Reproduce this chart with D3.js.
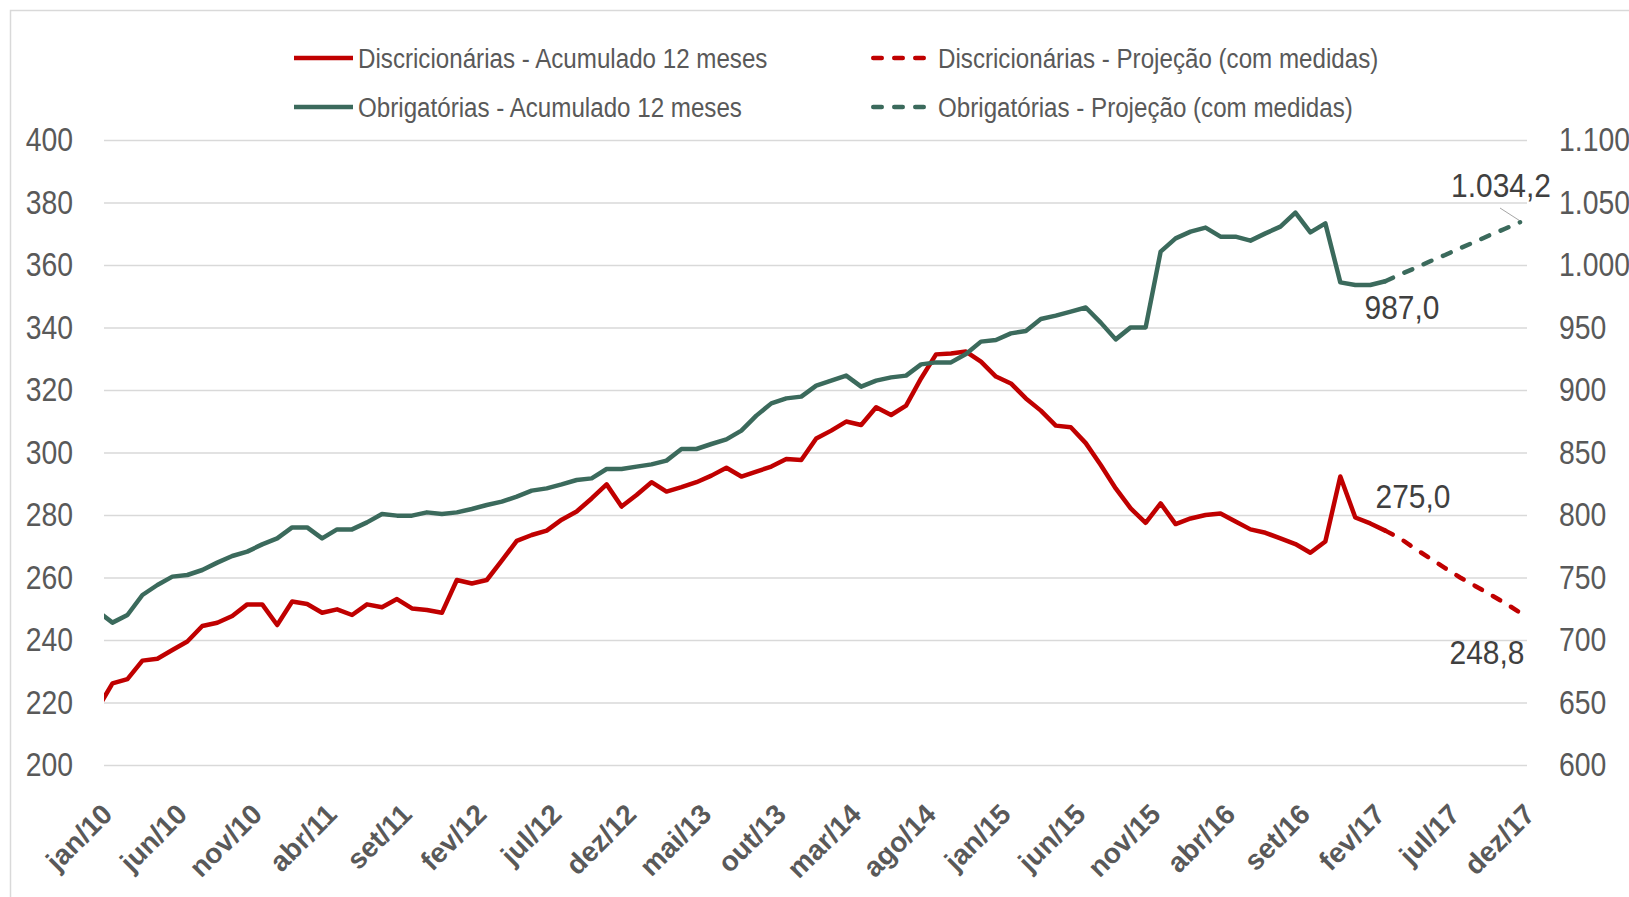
<!DOCTYPE html>
<html>
<head>
<meta charset="utf-8">
<script src="https://cdn.jsdelivr.net/npm/d3@7"></script>
<style>
  body { margin: 0; background: #fff; }
  svg { display: block; }
  text { font-family: "Liberation Sans", Arial, sans-serif; }
</style>
</head>
<body>
<div id="root"></div>
<script>
const meses = ['jan', 'fev', 'mar', 'abr', 'mai', 'jun', 'jul', 'ago', 'set', 'out', 'nov', 'dez'];
const anos = ['10', '11', '12', '13', '14', '15', '16', '17'];
const categorias = anos.flatMap(a => meses.map(m => m + '/' + a));

// R$ bilhões, acumulado 12 meses (jan/10 - mar/17)
const discricionarias = [
  218.0, 226.1, 227.5, 233.4, 234.0, 236.8, 239.5, 244.5, 245.5, 247.7, 251.4, 251.4,
  244.8, 252.3, 251.5, 248.7, 249.8, 248.0, 251.4, 250.5, 253.1, 250.1, 249.6, 248.7,
  259.2, 258.1, 259.2, 265.4, 271.7, 273.6, 275.0, 278.5, 281.1, 285.3, 289.8, 282.7,
  286.4, 290.5, 287.5, 288.9, 290.5, 292.6, 295.1, 292.3, 293.9, 295.5, 297.9, 297.6,
  304.5, 307.0, 309.9, 308.8, 314.5, 312.0, 315.0, 323.7, 331.4, 331.7, 332.3, 329.1,
  324.3, 322.1, 317.3, 313.4, 308.6, 308.1, 303.0, 296.0, 288.5, 282.1, 277.5, 283.7,
  277.1, 278.9, 280.0, 280.5, 277.9, 275.4, 274.3, 272.5, 270.7, 267.9, 271.5, 292.3,
  279.2, 277.3, 275.0
];
// projeção mar/17 - dez/17
const discProjecao = [275.0, 272.5, 269.2, 266.1, 263.0, 260.0, 257.3, 254.6, 251.8, 248.8];

const obrigatorias = [
  723.0, 713.9, 720.0, 736.0, 744.0, 750.7, 752.0, 756.0, 761.9, 767.2, 770.7, 776.5,
  781.3, 790.1, 790.1, 781.3, 788.5, 788.5, 794.1, 800.8, 799.5, 799.5, 802.1, 800.8,
  802.1, 804.8, 808.0, 810.7, 814.7, 819.5, 821.3, 824.5, 828.0, 829.3, 836.8, 836.8,
  838.7, 840.5, 843.5, 852.8, 852.8, 856.8, 860.5, 867.5, 879.5, 889.3, 893.3, 894.7,
  903.5, 907.5, 911.5, 902.7, 907.5, 910.1, 911.5, 920.5, 922.1, 922.1, 928.8, 938.7,
  940.0, 945.3, 947.2, 956.8, 959.5, 962.7, 966.0, 953.9, 940.5, 950.1, 950.1, 1010.7,
  1021.3, 1026.7, 1029.9, 1022.7, 1022.7, 1019.5, 1025.3, 1030.7, 1041.9, 1026.1, 1033.3, 986.1,
  984.0, 984.0, 987.0
];
const obrigProjecao = [987.0, 992.5, 997.5, 1003.0, 1008.0, 1013.5, 1018.5, 1024.0, 1029.0, 1034.2];

const ticksEsq = [200, 220, 240, 260, 280, 300, 320, 340, 360, 380, 400];
const ticksDir = [600, 650, 700, 750, 800, 850, 900, 950, 1000, 1050, 1100];

const VERMELHO = '#c00000';
const VERDE = '#3b6a5c';
const CINZA = '#595959';

const width = 1629, height = 897;
const plotLeft = 104, plotRight = 1527, plotTop = 140, plotBottom = 765;
// narrow look: regular Liberation Sans squeezed horizontally
const estreito = (sel, ax, sx) => sel.attr('x', 0).attr('transform', `translate(${ax},0) scale(${sx},1)`);

const br = d3.formatLocale({decimal: ',', thousands: '.', grouping: [3], currency: ['R$', '']});
const fmtEixo = br.format(',d');
const fmtRotulo = br.format(',.1f');

const svg = d3.select('#root').append('svg')
  .attr('width', width)
  .attr('height', height);

svg.append('rect').attr('width', width).attr('height', height).attr('fill', '#fff');
svg.append('rect')
  .attr('x', 10.5).attr('y', 10.5)
  .attr('width', width + 20).attr('height', height + 20)
  .attr('fill', 'none').attr('stroke', '#d9d9d9').attr('stroke-width', 1.5);

svg.append('clipPath').attr('id', 'area')
  .append('rect').attr('x', plotLeft).attr('y', 0).attr('width', width - plotLeft).attr('height', height);

const x = d3.scalePoint().domain(categorias).range([97.5, 1520]);
const yL = d3.scaleLinear().domain([200, 400]).range([plotBottom, plotTop]);
const yR = d3.scaleLinear().domain([600, 1100]).range([plotBottom, plotTop]);

// gridlines
svg.append('g')
  .attr('transform', `translate(${plotLeft},0)`)
  .call(d3.axisLeft(yL).tickValues(ticksEsq).tickSize(-(plotRight - plotLeft)).tickFormat(''))
  .call(g => g.select('.domain').remove())
  .call(g => g.selectAll('line').attr('stroke', '#d9d9d9').attr('stroke-width', 1.5));

// left axis
svg.append('g')
  .attr('transform', `translate(${plotLeft},0)`)
  .call(d3.axisLeft(yL).tickValues(ticksEsq).tickSize(0).tickPadding(31).tickFormat(fmtEixo))
  .call(g => g.select('.domain').remove())
  .call(g => g.attr('font-family', null).attr('font-size', null))
  .call(g => g.selectAll('text').attr('fill', CINZA).style('font-size', '33px').call(estreito, -31, 0.86));

// right axis
svg.append('g')
  .attr('transform', `translate(${plotRight},0)`)
  .call(d3.axisRight(yR).tickValues(ticksDir).tickSize(0).tickPadding(32).tickFormat(fmtEixo))
  .call(g => g.select('.domain').remove())
  .call(g => g.attr('font-family', null).attr('font-size', null))
  .call(g => g.selectAll('text').attr('fill', CINZA).style('font-size', '33px').call(estreito, 32, 0.86));

// bottom axis, one label every 5 months
const xAxis = svg.append('g')
  .attr('transform', `translate(0,${plotBottom})`)
  .call(d3.axisBottom(x).tickValues(categorias.filter((d, i) => i % 5 === 0)).tickSize(0).tickFormat(d => d))
  .call(g => g.select('.domain').remove())
  .call(g => g.attr('font-family', null).attr('font-size', null));
xAxis.selectAll('text')
  .attr('fill', CINZA)
  .attr('font-weight', 'bold')
  .style('font-size', '28px')
  .attr('text-anchor', 'end')
  .attr('dy', null)
  .attr('y', 0)
  .attr('transform', 'translate(16,51) rotate(-45)');

const line = (data, y, offset) => d3.line()
  .x((d, i) => x(categorias[i + offset]))
  .y(d => y(d))(data);

const series = [
  {data: discricionarias, y: yL, off: 0, color: VERMELHO, dash: null},
  {data: obrigatorias, y: yR, off: 0, color: VERDE, dash: null},
  {data: discProjecao, y: yL, off: discricionarias.length - 1, color: VERMELHO, dash: '8.5,12.5'},
  {data: obrigProjecao, y: yR, off: obrigatorias.length - 1, color: VERDE, dash: '8.5,12.5'}
];

svg.append('g').attr('clip-path', 'url(#area)').selectAll('path')
  .data(series)
  .join('path')
  .attr('fill', 'none')
  .attr('stroke', d => d.color)
  .attr('stroke-width', 4.5)
  .attr('stroke-linejoin', 'round')
  .attr('stroke-linecap', 'round')
  .attr('stroke-dasharray', d => d.dash)
  .attr('d', d => line(d.data, d.y, d.off));

// data labels
const ultimo = arr => arr[arr.length - 1];
const rotulos = [
  {v: ultimo(obrigProjecao), tx: 1501, ty: 197},
  {v: ultimo(obrigatorias), tx: 1402, ty: 319},
  {v: ultimo(discricionarias), tx: 1413, ty: 508},
  {v: ultimo(discProjecao), tx: 1487, ty: 664}
];
svg.append('line')
  .attr('x1', 1500).attr('y1', 208)
  .attr('x2', x(ultimo(categorias)) - 1).attr('y2', yR(ultimo(obrigProjecao)) - 2)
  .attr('stroke', '#a6a6a6').attr('stroke-width', 1);
svg.append('g').selectAll('text')
  .data(rotulos)
  .join('text')
  .attr('y', d => d.ty)
  .attr('text-anchor', 'middle')
  .attr('fill', '#404040')
  .style('font-size', '34px')
  .text(d => fmtRotulo(d.v))
  .each(function (d) { d3.select(this).call(estreito, d.tx, 0.88); });

// legend
const legenda = [
  {label: 'Discricionárias - Acumulado 12 meses', color: VERMELHO, dash: null, lx: 294, ly: 58},
  {label: 'Discricionárias - Projeção (com medidas)', color: VERMELHO, dash: '8.5,12.5', lx: 871, ly: 58},
  {label: 'Obrigatórias - Acumulado 12 meses', color: VERDE, dash: null, lx: 294, ly: 107},
  {label: 'Obrigatórias - Projeção (com medidas)', color: VERDE, dash: '8.5,12.5', lx: 871, ly: 107}
];
const leg = svg.append('g').selectAll('g')
  .data(legenda)
  .join('g')
  .attr('transform', d => `translate(${d.lx},${d.ly})`);
leg.append('line')
  .attr('x1', d => d.dash ? 2.25 : 0).attr('x2', d => d.dash ? 54 : 59)
  .attr('stroke', d => d.color)
  .attr('stroke-width', 4.5)
  .attr('stroke-linecap', d => d.dash ? 'round' : 'butt')
  .attr('stroke-dasharray', d => d.dash);
leg.append('text')
  .attr('y', 10)
  .attr('fill', CINZA)
  .style('font-size', '28px')
  .text(d => d.label)
  .each(function (d) { d3.select(this).call(estreito, d.dash ? 67 : 64, 0.863); });
</script>
</body>
</html>
